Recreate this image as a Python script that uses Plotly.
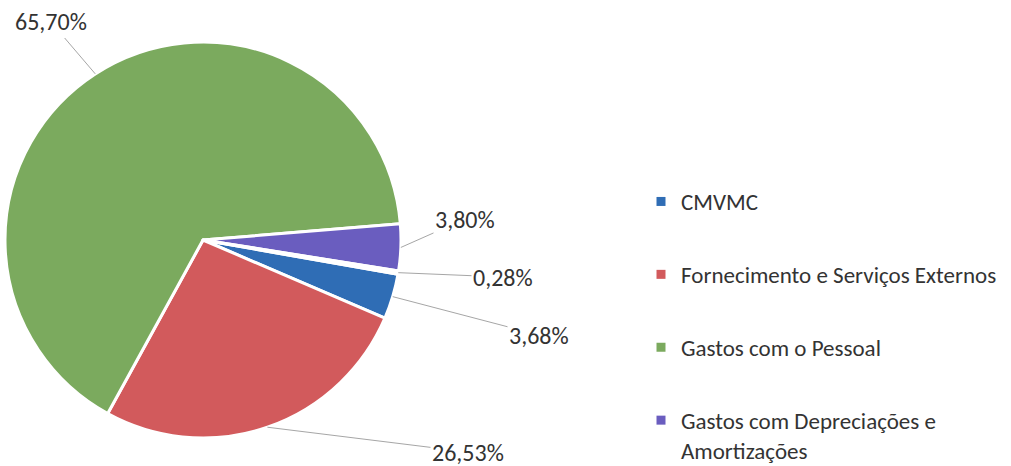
import math
import plotly.graph_objects as go

# ---- data ----
categories = ["CMVMC", "Fornecimento e Serviços Externos", "Gastos com o Pessoal",
              "Gastos com Depreciações e Amortizações", "Outros"]
legend_labels = ["CMVMC", "Fornecimento e Serviços Externos", "Gastos com o Pessoal",
                 "Gastos com Depreciações e<br>Amortizações"]
values = [3.68, 26.53, 65.70, 3.80, 0.28]
colors = ["#2F6DB5", "#D25A5C", "#7BAA5E", "#6A5DBF", "#FFFFFF"]

# ---- layout constants ----
W, H = 1011, 466
CX, CY, R = 203, 240, 198          # pie centre / radius in pixels (from top-left)
ROTATION = 100
# label text centres (pixels), one per slice
label_pos = [(539, 335), (468, 452), (51, 22), (465, 219), (503, 277)]
FONT = "Carlito, Lato, sans-serif"

fig = go.Figure()
fig.add_trace(go.Pie(
    labels=categories, values=values, sort=False, direction="clockwise",
    rotation=ROTATION, textinfo="none", showlegend=False, hoverinfo="label+percent",
    marker=dict(colors=colors, line=dict(color="white", width=3)),
    domain=dict(x=[(CX - R) / W, (CX + R) / W],
                y=[(H - CY - R) / H, (H - CY + R) / H]),
))

# legend-only traces
for i, name in enumerate(legend_labels):
    fig.add_trace(go.Scatter(
        x=[None], y=[None], mode="markers", name=name, legendgroup=f"g{i}",
        marker=dict(symbol="square", size=9, color=colors[i]), showlegend=True))

# data labels with leader lines
total = sum(values)
start = ROTATION
for v, (tx, ty) in zip(values, label_pos):
    sweep = v / total * 360
    mid = math.radians(start + sweep / 2)
    start += sweep
    px = CX + R * math.sin(mid)
    py = CY - R * math.cos(mid)
    fig.add_annotation(
        x=px / W, y=1 - py / H, xref="paper", yref="paper",
        ax=tx - px, ay=ty - py, axref="pixel", ayref="pixel",
        text=f"{v:.2f}".replace(".", ",") + "%",
        showarrow=True, arrowhead=0, arrowwidth=1, arrowcolor="#A6A6A6",
        font=dict(family=FONT, size=24, color="#333333"), standoff=0,
    )

fig.update_layout(
    width=W, height=H,
    margin=dict(l=0, r=0, t=0, b=0, autoexpand=False),
    paper_bgcolor="white", plot_bgcolor="white",
    xaxis=dict(visible=False), yaxis=dict(visible=False),
    legend=dict(x=641 / W, xanchor="left", y=1 - 180 / H, yanchor="top",
                font=dict(family=FONT, size=23, color="#333333"),
                tracegroupgap=40, valign="top", bgcolor="rgba(0,0,0,0)"),
)

fig.write_html("out.html", config={"displayModeBar": False},
               post_script="document.body.style.margin='0';document.body.style.overflow='hidden';")
